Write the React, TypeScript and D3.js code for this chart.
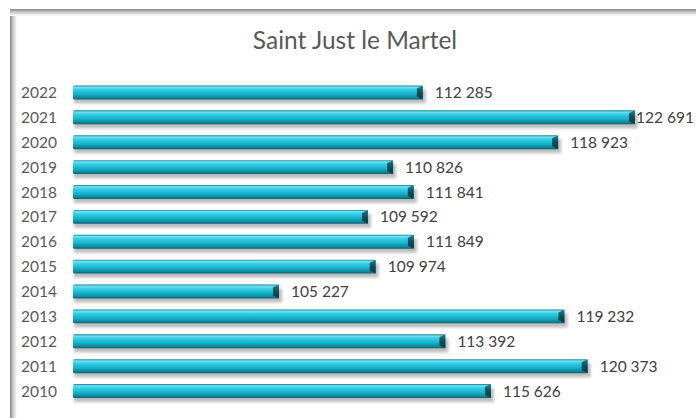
import React from "react";
import * as d3 from "d3";

const WIDTH = 696;
const HEIGHT = 418;

const years = ["2022", "2021", "2020", "2019", "2018", "2017", "2016", "2015", "2014", "2013", "2012", "2011", "2010"];
const values = [112285, 122691, 118923, 110826, 111841, 109592, 111849, 109974, 105227, 119232, 113392, 120373, 115626];

const FONT = "Lato, 'Open Sans', sans-serif";

const fmt = (v: number) => d3.format(",")(v).replace(/,/g, " ");

export const App = () => {
  const xScale = d3.scaleLinear().domain([95000, 125000]).range([70.5, 682]);
  const yScale = d3.scaleBand().domain(years).range([80, 403.5]).paddingInner(0.44).paddingOuter(0.22);

  const x0 = 73;
  const h = yScale.bandwidth();

  const bars = years.map((yr, i) => {
    const y = yScale(yr) ?? 0;
    const xe = xScale(values[i]);
    // label would leave the chart: anchor it on the right edge instead
    const overflow = xe + 12 + 57 > WIDTH - 2;
    return (
      <g key={yr}>
        <rect x={x0 + 1} y={y + 4} width={xe - x0 + 2} height={h} fill="#7a7a7a" opacity={0.5} filter="url(#blur)" />
        <rect x={x0} y={y} width={xe - x0} height={h} fill="url(#barGrad)" rx={1.5} />
        <polygon
          points={`${xe - 6},${y + 3} ${xe},${y} ${xe},${y + h} ${xe - 6},${y + h - 3}`}
          fill="url(#capGrad)"
        />
        <text
          x={overflow ? WIDTH - 2 : xe + 12}
          y={y + h / 2}
          dy="0.36em"
          textAnchor={overflow ? "end" : "start"}
          fontFamily={FONT}
          fontSize={15.5}
          fill="#404040"
        >
          {fmt(values[i])}
        </text>
        <text x={57} y={y + h / 2} dy="0.36em" textAnchor="end" fontFamily={FONT} fontSize={15.5} fill="#595959">
          {yr}
        </text>
      </g>
    );
  });

  return (
    <svg width={WIDTH} height={HEIGHT} style={{ position: "absolute", left: 0, top: 0 }}>
      <defs>
        <linearGradient id="barGrad" x1="0" y1="0" x2="0" y2="1">
          <stop offset="0" stopColor="#0c7f92" />
          <stop offset="0.12" stopColor="#6fe2f1" />
          <stop offset="0.3" stopColor="#36cde4" />
          <stop offset="0.6" stopColor="#18b2cc" />
          <stop offset="0.85" stopColor="#0d8ba0" />
          <stop offset="1" stopColor="#095f6f" />
        </linearGradient>
        <linearGradient id="capGrad" x1="0" y1="0" x2="0" y2="1">
          <stop offset="0" stopColor="#1f7f8f" />
          <stop offset="0.5" stopColor="#0c4e5a" />
          <stop offset="1" stopColor="#083a44" />
        </linearGradient>
        <linearGradient id="leftShade" x1="0" y1="0" x2="1" y2="0">
          <stop offset="0" stopColor="#858585" />
          <stop offset="0.4" stopColor="#c4c4c4" />
          <stop offset="1" stopColor="#ffffff" />
        </linearGradient>
        <linearGradient id="topShade" x1="0" y1="0" x2="0" y2="1">
          <stop offset="0" stopColor="#858585" />
          <stop offset="0.4" stopColor="#c4c4c4" />
          <stop offset="1" stopColor="#ffffff" />
        </linearGradient>
        <filter id="blur" x="-10%" y="-50%" width="120%" height="200%">
          <feGaussianBlur stdDeviation="1.6" />
        </filter>
      </defs>
      <rect x={0} y={0} width={WIDTH} height={HEIGHT} fill="#ffffff" />
      {/* frame with inner bevel */}
      <rect x={10} y={9} width={7} height={HEIGHT} fill="url(#leftShade)" />
      <rect x={10} y={9} width={WIDTH} height={7} fill="url(#topShade)" />
      <text x={355} y={49} textAnchor="middle" fontFamily={FONT} fontSize={24.5} fill="#595959">
        Saint Just le Martel
      </text>
      {bars}
    </svg>
  );
};

export default App;
